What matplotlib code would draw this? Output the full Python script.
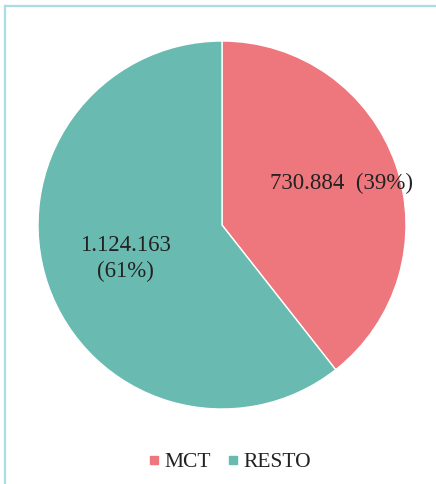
import numpy as np
import matplotlib
matplotlib.use("Agg")
import matplotlib.pyplot as plt
from matplotlib.lines import Line2D

categories = ["MCT", "RESTO"]
values = [730884, 1124163]
colors = ["#EE767D", "#69BAB0"]
label_fmt = ["{v}  ({p}%)", "{v}\n({p}%)"]

plt.rcParams["font.family"] = ["Liberation Serif", "DejaVu Serif"]

W, H = 436, 484
fig = plt.figure(figsize=(W / 100, H / 100), dpi=100)

# frame lines along the top and left edge
fc = "#A9DDE1"
fig.add_artist(Line2D([5 / W, 5 / W], [0, 1 - 6 / H], color=fc, lw=1.6,
                      transform=fig.transFigure))
fig.add_artist(Line2D([5 / W, 1], [1 - 6 / H, 1 - 6 / H], color=fc, lw=1.6,
                      transform=fig.transFigure))

# pie: centre (222, 225) px, radius 184 px
cx, cy, r = 222, 225, 184
ax = fig.add_axes([(cx - r) / W, 1 - (cy + r) / H, 2 * r / W, 2 * r / H])
wedges, _ = ax.pie(values, colors=colors, startangle=90, counterclock=False,
                   radius=1, wedgeprops=dict(edgecolor="white", linewidth=1.0))
ax.set_xlim(-1, 1)
ax.set_ylim(-1, 1)
ax.set_aspect("equal")
ax.axis("off")

total = sum(values)
dist = [0.69, 0.555]
for w, v, fmt, d in zip(wedges, values, label_fmt, dist):
    mid = np.deg2rad((w.theta1 + w.theta2) / 2)
    txt = fmt.format(v=f"{v:,}".replace(",", "."), p=round(100 * v / total))
    ax.text(d * np.cos(mid), d * np.sin(mid), txt,
            ha="center", va="center", fontsize=16.5, color="#222222",
            linespacing=1.3)

handles = [Line2D([], [], marker="s", ls="none", color=c, markersize=6)
           for c in colors]
fig.legend(handles, categories, loc="center", bbox_to_anchor=(227 / W, 1 - 462 / H),
           ncol=2, frameon=False, fontsize=15.5, handletextpad=0.0,
           columnspacing=0.5, handlelength=1.0, labelcolor="#222222")

fig.savefig("out.png", dpi=100)
